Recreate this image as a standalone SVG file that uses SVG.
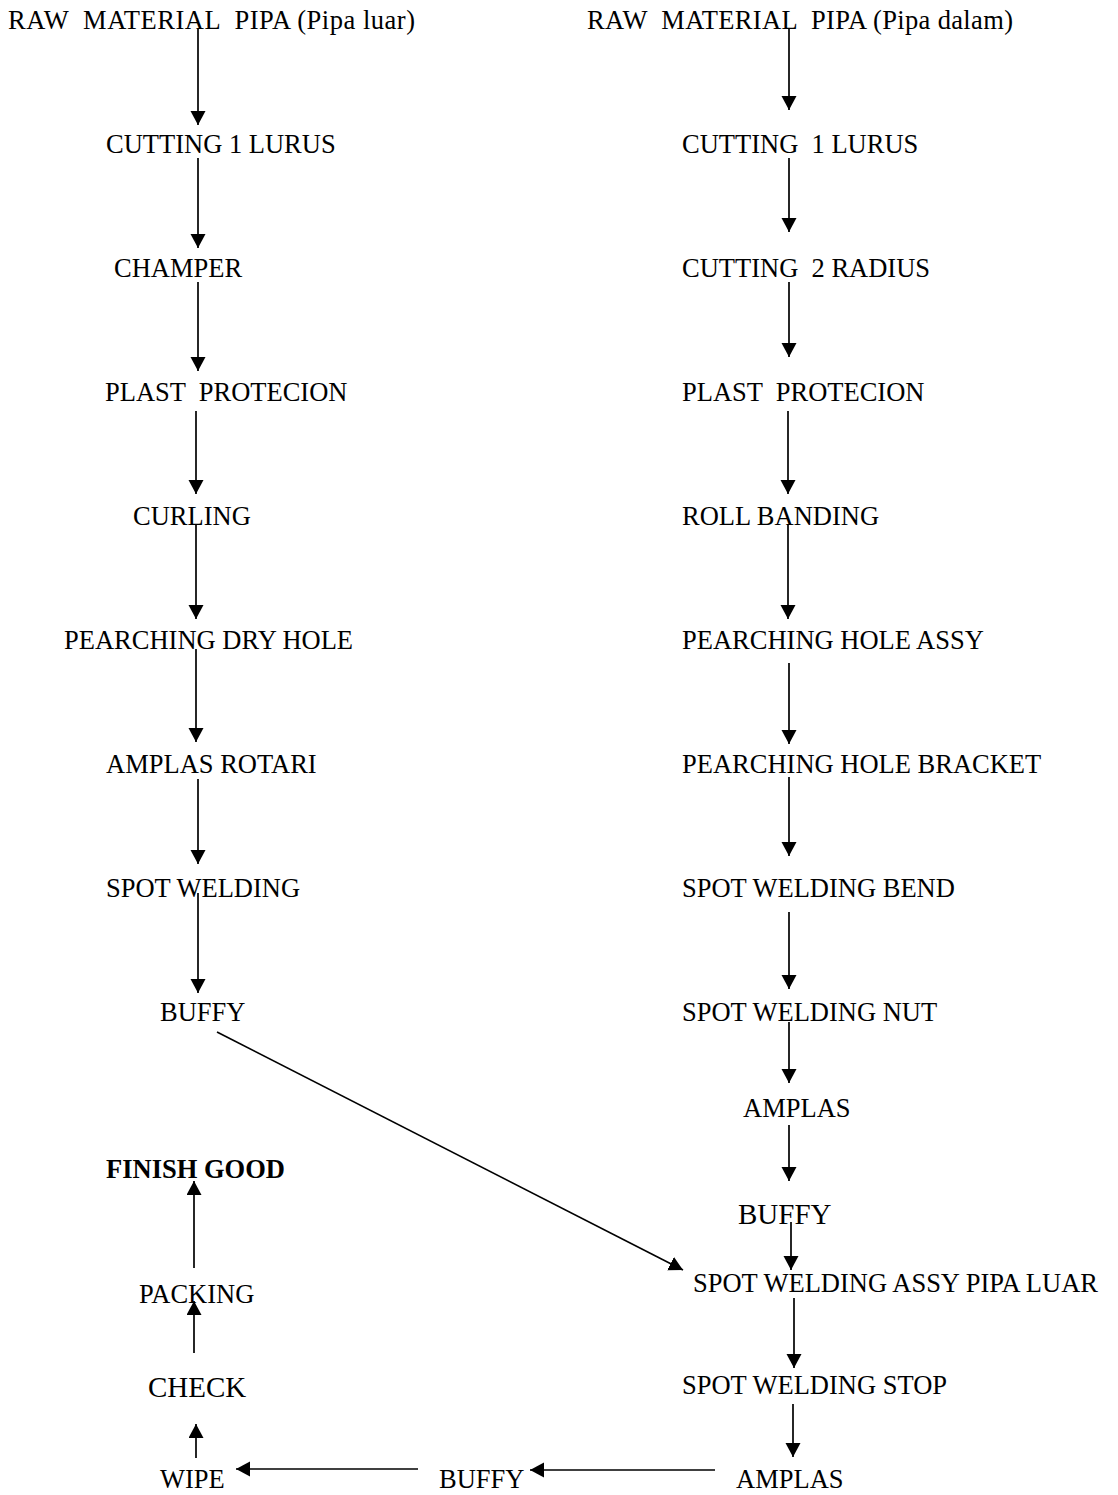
<svg xmlns="http://www.w3.org/2000/svg" width="1118" height="1495" viewBox="0 0 1118 1495">
  <defs>
    <marker id="head" markerUnits="userSpaceOnUse" markerWidth="16" markerHeight="16" refX="14" refY="7.5" orient="auto">
      <path d="M0,0 L14,7.5 L0,15 z" fill="#000"/>
    </marker>
    <style>
      .lbl { font-family: "Liberation Serif", "Times New Roman", serif; font-size: 26.5px; fill: #000; }
      .big { font-size: 29px; }
      .bold { font-weight: bold; }
      .conn line { stroke: #000; stroke-width: 1.7; marker-end: url(#head); }
    </style>
  </defs>
  <rect width="1118" height="1495" fill="#fff"/>

  <!-- Left column: outer pipe -->
  <g id="l-raw"><text class="lbl" x="8" y="29" textLength="407" lengthAdjust="spacing" xml:space="preserve">RAW  MATERIAL  PIPA (Pipa luar)</text></g>
  <g id="l-cutting"><text class="lbl" x="106" y="153">CUTTING 1 LURUS</text></g>
  <g id="l-champer"><text class="lbl" x="114" y="277">CHAMPER</text></g>
  <g id="l-plast"><text class="lbl" x="105" y="401" xml:space="preserve">PLAST  PROTECION</text></g>
  <g id="l-curling"><text class="lbl" x="133" y="525">CURLING</text></g>
  <g id="l-pearching"><text class="lbl" x="64" y="649">PEARCHING DRY HOLE</text></g>
  <g id="l-amplas"><text class="lbl" x="106" y="773">AMPLAS ROTARI</text></g>
  <g id="l-spot"><text class="lbl" x="106" y="897">SPOT WELDING</text></g>
  <g id="l-buffy"><text class="lbl" x="160" y="1021">BUFFY</text></g>

  <!-- Left column: finishing -->
  <g id="finish"><text class="lbl bold" x="106" y="1178">FINISH GOOD</text></g>
  <g id="packing"><text class="lbl" x="139" y="1303">PACKING</text></g>
  <g id="check"><text class="lbl big" x="148" y="1397">CHECK</text></g>
  <g id="wipe"><text class="lbl" x="160" y="1488">WIPE</text></g>
  <g id="b-buffy"><text class="lbl" x="439" y="1488">BUFFY</text></g>
  <g id="b-amplas"><text class="lbl" x="736" y="1488">AMPLAS</text></g>

  <!-- Right column: inner pipe -->
  <g id="r-raw"><text class="lbl" x="587" y="29" textLength="426" lengthAdjust="spacing" xml:space="preserve">RAW  MATERIAL  PIPA (Pipa dalam)</text></g>
  <g id="r-cutting1"><text class="lbl" x="682" y="153" xml:space="preserve">CUTTING  1 LURUS</text></g>
  <g id="r-cutting2"><text class="lbl" x="682" y="277" xml:space="preserve">CUTTING  2 RADIUS</text></g>
  <g id="r-plast"><text class="lbl" x="682" y="401" xml:space="preserve">PLAST  PROTECION</text></g>
  <g id="r-roll"><text class="lbl" x="682" y="525">ROLL BANDING</text></g>
  <g id="r-hole-assy"><text class="lbl" x="682" y="649">PEARCHING HOLE ASSY</text></g>
  <g id="r-hole-bracket"><text class="lbl" x="682" y="773">PEARCHING HOLE BRACKET</text></g>
  <g id="r-bend"><text class="lbl" x="682" y="897">SPOT WELDING BEND</text></g>
  <g id="r-nut"><text class="lbl" x="682" y="1021">SPOT WELDING NUT</text></g>
  <g id="r-amplas"><text class="lbl" x="743" y="1117">AMPLAS</text></g>
  <g id="r-buffy"><text class="lbl big" x="738" y="1224">BUFFY</text></g>
  <g id="r-assy"><text class="lbl" x="693" y="1292">SPOT WELDING ASSY PIPA LUAR</text></g>
  <g id="r-stop"><text class="lbl" x="682" y="1394">SPOT WELDING STOP</text></g>

  <!-- Connectors -->
  <g class="conn">
    <!-- left column, downward -->
    <line x1="198" y1="29" x2="198" y2="125"/>
    <line x1="198" y1="158" x2="198" y2="248"/>
    <line x1="198" y1="282" x2="198" y2="371"/>
    <line x1="196" y1="411" x2="196" y2="494"/>
    <line x1="196" y1="525" x2="196" y2="619"/>
    <line x1="196" y1="649" x2="196" y2="742"/>
    <line x1="198" y1="779" x2="198" y2="864"/>
    <line x1="198" y1="893" x2="198" y2="993"/>

    <!-- right column, downward -->
    <line x1="789" y1="29" x2="789" y2="110"/>
    <line x1="789" y1="158" x2="789" y2="232"/>
    <line x1="789" y1="282" x2="789" y2="357"/>
    <line x1="788" y1="411" x2="788" y2="494"/>
    <line x1="788" y1="524" x2="788" y2="619"/>
    <line x1="789" y1="663" x2="789" y2="744"/>
    <line x1="789" y1="777" x2="789" y2="856"/>
    <line x1="789" y1="912" x2="789" y2="989"/>
    <line x1="789" y1="1022" x2="789" y2="1083"/>
    <line x1="789" y1="1125" x2="789" y2="1181"/>
    <line x1="791" y1="1222" x2="791" y2="1270"/>
    <line x1="794" y1="1298" x2="794" y2="1368"/>
    <line x1="793" y1="1404" x2="793" y2="1457"/>

    <!-- outer pipe joins the assembly -->
    <line x1="217" y1="1032" x2="683" y2="1270"/>

    <!-- bottom row, leftward -->
    <line x1="715" y1="1470" x2="530" y2="1470"/>
    <line x1="418" y1="1469" x2="236" y2="1469"/>

    <!-- left column, upward -->
    <line x1="196" y1="1458" x2="196" y2="1424"/>
    <line x1="194" y1="1353" x2="194" y2="1301"/>
    <line x1="194" y1="1268" x2="194" y2="1181"/>
  </g>
</svg>
